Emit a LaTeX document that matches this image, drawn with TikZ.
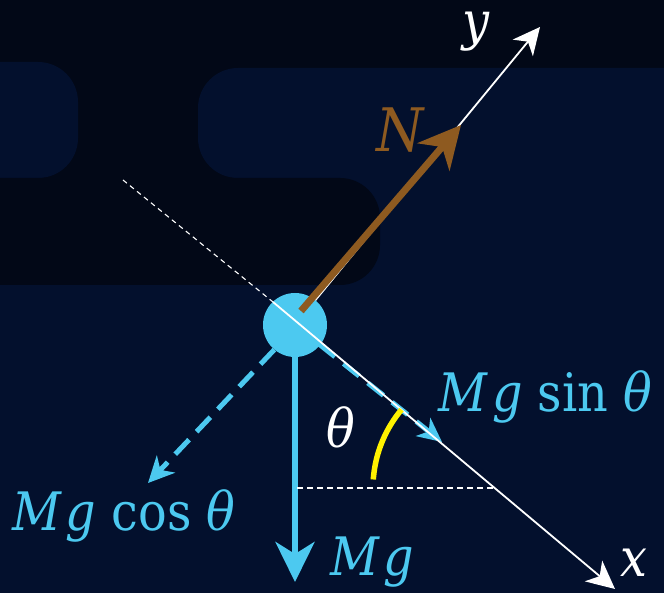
\documentclass[tikz,border=0pt]{standalone}
\usepackage{fontspec}
\setmainfont{DejaVu Serif Condensed}
\usetikzlibrary{arrows.meta}
\definecolor{bgdark}{HTML}{020817}
\definecolor{bglight}{HTML}{03102D}
\definecolor{ballc}{HTML}{4CC9F0}
\definecolor{brownN}{HTML}{8E5A20}
\definecolor{yel}{HTML}{FFF200}
\newcommand{\mgap}{\hspace{5pt}}
\begin{document}
\begin{tikzpicture}[x=1pt,y=-1pt,
  lab/.style={inner sep=0pt, font=\fontsize{53}{56}\selectfont},
  axisline/.style={white, line width=1.8pt},
  guide/.style={white, line width=1.1pt, dash pattern=on 5pt off 4pt},
  force/.style={ballc, line width=6pt},
  dforce/.style={ballc, line width=5pt, dash pattern=on 20pt off 11pt}]
\useasboundingbox (0,0) rectangle (664,593);
\begin{scope}
\clip (0,0) rectangle (664,593);
\fill[bgdark] (0,0) rectangle (664,593);
\fill[bglight, rounded corners=40pt] (-60,62) rectangle (78,178);
\fill[bglight, rounded corners=40pt] (198,68) rectangle (740,178);
\fill[bglight] (330,120) rectangle (740,300);
\fill[bgdark, rounded corners=40pt] (-60,178) rectangle (380,285);
\fill[bglight] (-10,285) rectangle (740,620);
\end{scope}

% coordinates
\coordinate (guideS) at (123,180);
\coordinate (xS) at (273,302);
\coordinate (xtip) at (615,589);
\coordinate (ytip) at (540,27);
\coordinate (Nstart) at (301,311);
\coordinate (Ntip) at (461,125);
\coordinate (hS) at (297,488);
\coordinate (hE) at (495,488);

% axes
\draw[guide] (guideS) -- (xS);
\draw[axisline, -{Stealth[length=27pt,width=26pt,inset=8pt]}] (295,325) -- (ytip);

% ball
\node[circle, fill=ballc, minimum size=64pt, inner sep=0pt] (ball) at (295,325) {};

\coordinate (Mgtip) at (295,582);
\coordinate (sintip) at (442,442);
\coordinate (costip) at (148,483);

% forces
\draw[force, -{Stealth[length=40pt,width=39pt,inset=12pt]}] (ball.south) -- (Mgtip);
\draw[dforce, -{Stealth[length=24pt,width=23pt,inset=7pt]}] (ball.center) -- (sintip);
\draw[dforce, -{Stealth[length=26pt,width=25pt,inset=8pt]}] (ball.-130) -- (costip);
\draw[axisline, -{Stealth[length=28pt,width=27pt,inset=8pt]}] (xS) -- (xtip);
\draw[brownN, line width=7pt, -{Stealth[length=42pt,width=42pt,inset=13pt]}] (Nstart) -- (Ntip);

% angle
\draw[guide, dash pattern=on 6pt off 4pt] (hS) -- (hE);
\draw[yel, line width=5.5pt] plot[domain=140:176, samples=30] ({495+122*cos(\x)},{488-122*sin(\x)});

% labels
\node[lab, font=\fontsize{60}{64}\selectfont, text=brownN, anchor=base west] (lN) at (376,152) {\itshape N};
\node[lab, text=white, anchor=base west] (ly) at (462,40) {\itshape y};
\node[lab, text=white, anchor=base west] (lx) at (620,576) {\itshape x};
\node[lab, text=white, anchor=base west] (lth) at (326,447) {\itshape θ};
\node[lab, text=ballc, anchor=base west] (lsin) at (438,412) {\itshape M\mgap g\/ \upshape sin \itshape θ};
\node[lab, text=ballc, anchor=base west] (lcos) at (12,530) {\itshape M\mgap g\/ \upshape cos \itshape θ};
\node[lab, text=ballc, anchor=base west] (lMg) at (330,575) {\itshape M\mgap g};
\end{tikzpicture}
\end{document}
